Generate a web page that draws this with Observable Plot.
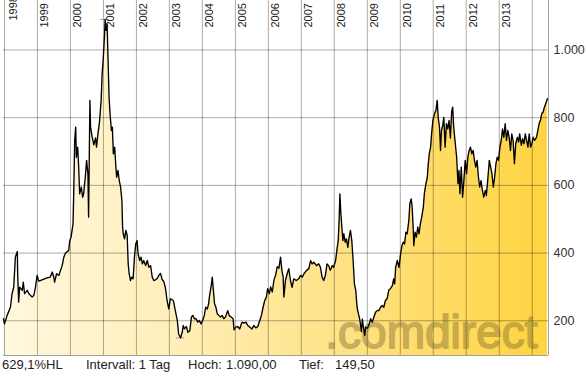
<!DOCTYPE html>
<html><head><meta charset="utf-8">
<script src="https://cdn.jsdelivr.net/npm/d3@7"></script>
<script src="https://cdn.jsdelivr.net/npm/@observablehq/plot@0.6"></script>
<style>
html,body{margin:0;padding:0;background:#fff;}
#wrap{position:relative;width:588px;height:376px;background:#fff;overflow:hidden;}
#stats{position:absolute;left:0;top:357px;width:588px;height:18px;font:13px 'Liberation Sans',Arial,sans-serif;color:#222;}
#stats span{position:absolute;top:0;line-height:16px;white-space:pre;}
</style></head>
<body><div id="wrap"><div id="chart"></div>
<div id="stats">
<span style="left:2px">629,1%HL</span>
<span style="left:86px">Intervall: 1 Tag</span>
<span style="left:188px">Hoch:</span>
<span style="left:226px">1.090,00</span>
<span style="left:299px">Tief:</span>
<span style="left:335px">149,50</span>
</div></div>
<script>
// decimal years and values
const times = [
1997.97,1998.00,1998.08,1998.18,1998.23,1998.28,1998.33,1998.39,1998.40,1998.43,1998.46,1998.54,1998.57,1998.61,1998.69,1998.74,1998.79,1998.84,1998.89,1998.94,1998.99,
1999.04,1999.14,1999.29,1999.39,1999.45,1999.49,1999.52,1999.58,1999.65,1999.70,1999.75,1999.80,1999.85,1999.95,1999.98,
2000.02,2000.08,2000.10,2000.13,2000.16,2000.18,2000.22,2000.25,2000.28,2000.33,2000.37,2000.40,2000.45,2000.49,2000.53,2000.55,2000.57,2000.59,2000.61,2000.66,2000.71,2000.76,2000.79,2000.83,2000.88,2000.93,2000.96,2000.99,
2001.03,2001.05,2001.08,2001.11,2001.14,2001.17,2001.20,2001.24,2001.27,2001.30,2001.34,2001.37,2001.40,2001.44,2001.48,2001.52,2001.56,2001.58,2001.60,2001.64,2001.68,2001.72,2001.75,2001.78,2001.82,2001.86,2001.90,2001.94,2001.98,
2002.02,2002.05,2002.10,2002.14,2002.18,2002.22,2002.28,2002.33,2002.38,2002.43,2002.48,2002.53,2002.58,2002.63,2002.68,2002.73,2002.78,2002.83,2002.88,2002.93,2002.98,
2003.03,2003.12,2003.18,2003.24,2003.28,2003.34,2003.39,2003.42,2003.46,2003.52,2003.56,2003.62,2003.67,2003.71,2003.76,2003.81,2003.86,2003.91,2003.96,
2004.01,2004.06,2004.10,2004.15,2004.19,2004.22,2004.27,2004.30,2004.33,2004.37,2004.41,2004.45,2004.50,2004.55,2004.60,2004.65,2004.70,2004.77,2004.81,2004.87,2004.93,2004.96,
2005.01,2005.07,2005.13,2005.20,2005.26,2005.32,2005.38,2005.44,2005.50,2005.56,2005.62,2005.68,2005.74,2005.79,2005.84,2005.89,2005.94,2005.98,
2006.03,2006.07,2006.12,2006.17,2006.22,2006.27,2006.32,2006.37,2006.41,2006.45,2006.47,2006.52,2006.57,2006.62,2006.67,2006.72,2006.77,2006.85,2006.92,2006.98,
2007.03,2007.08,2007.16,2007.23,2007.28,2007.33,2007.38,2007.46,2007.53,2007.58,2007.63,2007.68,2007.73,2007.78,2007.83,2007.88,2007.94,2007.98,
2008.04,2008.09,2008.12,2008.15,2008.17,2008.20,2008.23,2008.26,2008.29,2008.33,2008.37,2008.41,2008.45,2008.49,2008.53,2008.57,2008.61,2008.65,2008.69,2008.73,2008.77,2008.82,2008.85,2008.88,2008.92,2008.95,
2009.00,2009.05,2009.10,2009.15,2009.20,2009.25,2009.30,2009.35,2009.40,2009.45,2009.50,2009.55,2009.60,2009.65,2009.70,2009.76,2009.80,2009.83,2009.86,2009.91,2009.96,
2010.01,2010.05,2010.09,2010.13,2010.17,2010.21,2010.26,2010.29,2010.33,2010.36,2010.39,2010.41,2010.45,2010.49,2010.53,2010.57,2010.61,2010.65,2010.70,2010.73,2010.77,2010.82,2010.85,2010.88,2010.92,2010.95,2010.99,
2011.04,2011.08,2011.12,2011.15,2011.19,2011.22,2011.25,2011.29,2011.32,2011.36,2011.40,2011.44,2011.48,2011.52,2011.56,2011.59,2011.62,2011.67,2011.71,2011.75,2011.78,2011.81,2011.85,2011.89,2011.93,2011.97,
2012.01,2012.05,2012.09,2012.13,2012.17,2012.21,2012.25,2012.29,2012.33,2012.37,2012.41,2012.45,2012.49,2012.53,2012.58,2012.61,2012.65,2012.70,2012.74,2012.78,2012.82,2012.86,2012.90,2012.94,2012.98,
2013.02,2013.06,2013.10,2013.14,2013.18,2013.22,2013.26,2013.30,2013.34,2013.38,2013.42,2013.46,2013.50,2013.55,2013.59,2013.62,2013.67,2013.71,2013.75,2013.79,2013.83,2013.87,2013.91,2013.95,2013.99,
2014.03,2014.07,2014.13,2014.17,2014.21,2014.25,2014.29,2014.33,2014.37,2014.41,2014.46
];
const values = [
206,191,216,240,280,299,388,405,339,255,299,290,314,280,290,280,275,270,275,299,334,
317,321,327,329,344,331,314,339,334,349,363,388,400,408,437,
447,487,575,733,772,683,713,654,575,595,565,575,624,674,634,506,674,851,772,742,720,740,713,750,787,851,930,969,
1038,1090,1058,1077,969,861,812,762,772,693,713,664,624,644,614,595,555,477,457,442,467,452,368,339,319,329,324,388,427,
437,398,378,388,368,378,363,378,358,363,329,319,321,325,334,340,322,316,297,260,235,
265,260,230,201,162,149.5,166,186,176,183,166,171,211,216,206,206,196,201,191,
201,216,240,235,250,275,304,329,295,250,240,221,216,211,216,206,211,230,216,211,206,173,
181,183,176,196,193,196,186,181,176,186,179,183,201,216,240,260,270,295,
280,300,285,320,335,360,355,388,349,329,270,319,339,354,319,299,324,319,324,334,
329,339,349,354,378,368,373,363,368,358,329,319,334,368,363,349,363,358,
378,417,437,506,575,516,477,437,457,432,442,417,447,467,437,378,309,290,240,221,205,168,205,181,157,181,
178,188,206,196,211,225,230,230,240,245,240,260,265,290,295,304,324,309,358,378,358,
398,422,432,427,462,457,496,546,560,536,477,422,462,447,477,457,487,506,536,575,600,624,664,693,713,752,792,
812,821,851,801,772,703,762,777,801,713,782,767,792,740,818,831,772,723,683,605,644,575,654,565,614,674,
634,683,703,713,693,703,674,654,674,624,595,614,585,565,585,570,614,674,654,634,595,624,664,683,674,
713,733,767,742,782,733,762,742,703,752,733,664,723,742,728,752,718,738,723,752,733,713,752,713,723,
742,733,742,762,782,792,812,816,831,841,856
];
const years = [1998,1999,2000,2001,2002,2003,2004,2005,2006,2007,2008,2009,2010,2011,2012,2013,2014];
const yTicks = [200,400,600,800,1000];
const high = {t: 2001.05, v: 1090};
const low = {t: 2003.34, v: 149.5};
const watermark = ".comdirect";

function decYear(t){
  const y = Math.floor(t);
  const a = Date.UTC(y,0,1), b = Date.UTC(y+1,0,1);
  return new Date(a + (t - y) * (b - a));
}
const data = times.map((t,i)=>({date: decYear(t), value: values[i]}));
const yearDates = years.map(y => decYear(y));
const Y0 = 97.5, Y1 = 1146;
const X0 = decYear(1997.97), X1 = decYear(2014.494);
const fmtDE = d3.formatLocale({decimal:",", thousands:".", grouping:[3], currency:["","€"]}).format(",d");
const font = "'Liberation Sans', Arial, sans-serif";

const defs = () => {
  const d = d3.create("svg:defs");
  const g = d.append("linearGradient").attr("id","fillGrad").attr("x1",0).attr("x2",1).attr("y1",0).attr("y2",0);
  [[0,"#fff8df"],[0.3,"#ffefba"],[0.6,"#ffe38a"],[1,"#ffd440"]].forEach(([o,c]) =>
    g.append("stop").attr("offset",o).attr("stop-color",c));
  return d.node();
};

const gridStyle = {stroke:"#000", strokeOpacity:0.33, strokeWidth:1};

const chart = Plot.plot({
  width: 588, height: 357,
  marginLeft: 3, marginRight: 40, marginTop: 0, marginBottom: 2,
  x: {type:"utc", domain:[X0, X1], axis: null},
  y: {domain:[Y0, Y1], axis: null},
  style: {fontFamily: font, background: "transparent", overflow: "visible"},
  marks: [
    defs,
    Plot.areaY(data, {x:"date", y1: Y0, y2:"value", fill:"url(#fillGrad)"}),
    Plot.ruleY(yTicks, gridStyle),
    Plot.ruleX(yearDates, gridStyle),
    Plot.text([watermark], {frameAnchor:"bottom-right", text: d=>d, textAnchor:"end", lineAnchor:"bottom",
      dx:-11, dy:-8, fontSize:46, fill:"#7a6a30", stroke:"#7a6a30", strokeWidth:1.8, opacity:0.42, fontFamily:font}),
    Plot.ruleY([high], {y:"v", x1: d=>decYear(d.t-0.13), x2: d=>decYear(d.t+0.13), stroke:"#999"}),
    Plot.ruleY([low], {y:"v", x1: d=>decYear(d.t-0.13), x2: d=>decYear(d.t+0.13), stroke:"#999"}),
    Plot.ruleY([Y0], {stroke:"#a0a0a0"}),
    Plot.ruleX([X1], {stroke:"#a0a0a0"}),
    Plot.line(data, {x:"date", y:"value", stroke:"#000", strokeWidth:1.35}),
    Plot.axisY(yTicks, {anchor:"right", tickSize:0, tickPadding:5, tickFormat: fmtDE, fontSize:12.5, fill:"#333", fontFamily:font}),
    Plot.text(yearDates.slice(1, -1), {x: d=>d, text: d=>String(d.getUTCFullYear()), frameAnchor:"top",
      rotate:-90, textAnchor:"start", lineAnchor:"middle", dx:7, dy:27, fontSize:11, fill:"#222", fontFamily:font}),
    Plot.text(yearDates.slice(0, 1), {x: d=>d, text: d=>String(d.getUTCFullYear()), frameAnchor:"top",
      rotate:-90, textAnchor:"start", lineAnchor:"middle", dx:9, dy:20, fontSize:11, fill:"#222", fontFamily:font})
  ]
});
document.getElementById("chart").appendChild(chart);
</script></body></html>
